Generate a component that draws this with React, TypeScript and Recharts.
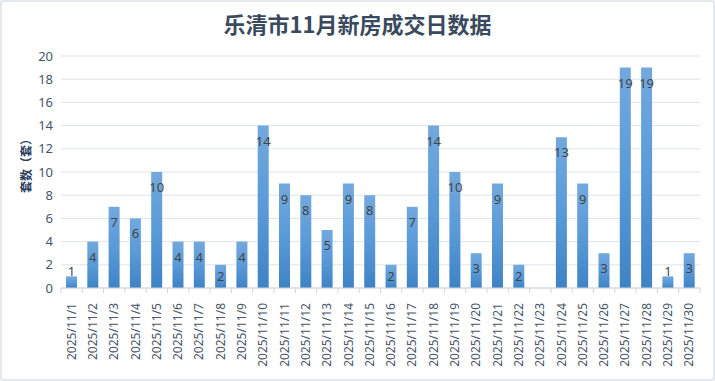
import React from 'react'
import { Bar, BarChart, CartesianGrid, LabelList, XAxis, YAxis } from 'recharts'

const days = [
  '2025/11/1', '2025/11/2', '2025/11/3', '2025/11/4', '2025/11/5', '2025/11/6', '2025/11/7', '2025/11/8',
  '2025/11/9', '2025/11/10', '2025/11/11', '2025/11/12', '2025/11/13', '2025/11/14', '2025/11/15',
  '2025/11/16', '2025/11/17', '2025/11/18', '2025/11/19', '2025/11/20', '2025/11/21', '2025/11/22',
  '2025/11/23', '2025/11/24', '2025/11/25', '2025/11/26', '2025/11/27', '2025/11/28', '2025/11/29',
  '2025/11/30',
]
const sales = [1, 4, 7, 6, 10, 4, 4, 2, 4, 14, 9, 8, 5, 9, 8, 2, 7, 14, 10, 3, 9, 2, 0, 13, 9, 3, 19, 19, 1, 3]
const yTicks = [0, 2, 4, 6, 8, 10, 12, 14, 16, 18, 20]

const data = days.map((d, i) => ({ name: d, value: sales[i] }))

const DayTick = (props: any) => {
  const { x, y, payload, width, visibleTicksCount } = props
  const half = width / visibleTicksCount / 2
  return (
    <g>
      <line x1={x - half} y1={y - 8} x2={x - half} y2={y - 3} stroke='#d0d5dc' />
      {payload.index === visibleTicksCount - 1 && (
        <line x1={x + half} y1={y - 8} x2={x + half} y2={y - 3} stroke='#d0d5dc' />
      )}
      <text x={x} y={y + 7} transform={`rotate(-90, ${x}, ${y + 7})`} textAnchor='end' dy={4}
        fill='#4a5568' fontSize={12} fontFamily='Noto Sans, sans-serif'>
        {payload.value}
      </text>
    </g>
  )
}

const ValueLabel = (props: any) => {
  const { x, y, width, height, value } = props
  if (!value) return null
  const center = height < 16 ? y - 5 : Math.min(y + 15, y + height / 2)
  return (
    <text x={x + width / 2} y={center + 5} textAnchor='middle' fill='#444' fontSize={13}
      fontFamily='Noto Sans, sans-serif'>
      {value}
    </text>
  )
}

export default function App() {
  return (
    <div style={{ position: 'absolute', left: 0, top: 0, width: 715, height: 381, background: '#fff' }}>
      <div style={{ position: 'absolute', left: 0, top: 0, width: 711, height: 377, border: '2px solid #e3e8ee', borderRadius: 3 }} />
      <div style={{
        position: 'absolute', left: 0, top: 9, width: 715, textAlign: 'center', fontSize: 22, fontWeight: 'bold',
        color: '#3a4a5e', fontFamily: 'Noto Sans CJK SC, sans-serif', lineHeight: '28px',
      }}>乐清市11月新房成交日数据</div>
      <BarChart width={715} height={381} data={data} margin={{ top: 56, right: 15, left: 0, bottom: 13 }}
        barSize={11} style={{ position: 'absolute', left: 0, top: 0 }}>
        <defs>
          <linearGradient id='barFill' x1='0' y1='0' x2='0' y2='1'>
            <stop offset='0%' stopColor='#72a9dd' />
            <stop offset='50%' stopColor='#5a9ad8' />
            <stop offset='100%' stopColor='#3f83c4' />
          </linearGradient>
        </defs>
        <CartesianGrid vertical={false} stroke='#dfe3e8' />
        <XAxis dataKey='name' interval={0} height={80} tickLine={false} axisLine={{ stroke: '#d0d5dc' }}
          tick={<DayTick />} tickMargin={2} />
        <YAxis width={61} domain={[0, 20]} ticks={yTicks} tickLine={false} axisLine={false}
          tick={{ fill: '#4a5568', fontSize: 13, fontFamily: 'Noto Sans, sans-serif' }}
          label={{ value: '套数（套）', angle: -90, position: 'insideLeft', offset: 27, dy: -9,
            style: { fill: '#2b3a5a', fontSize: 12, fontWeight: 'bold', fontFamily: 'Noto Sans CJK SC, sans-serif', textAnchor: 'middle' } }} />
        <Bar dataKey='value' fill='url(#barFill)' isAnimationActive={false}>
          <LabelList dataKey='value' content={<ValueLabel />} />
        </Bar>
      </BarChart>
    </div>
  )
}
